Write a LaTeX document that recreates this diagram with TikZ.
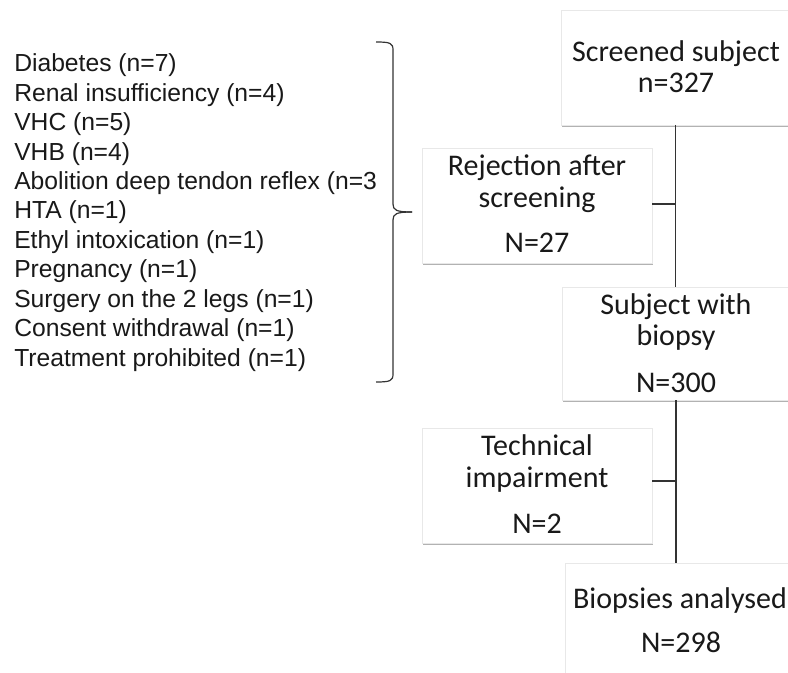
\documentclass[tikz,border=0pt]{standalone}
\usepackage{fontspec}
\setmainfont{Carlito}
\newfontfamily\arialf{Liberation Sans}
\usetikzlibrary{shadows,calc}
\begin{document}
\begin{tikzpicture}[x=0.75pt,y=-0.75pt,
  box/.style={draw=black!9, line width=0.6pt, fill=white, inner sep=0pt, outer sep=0pt,
    drop shadow={shadow xshift=0.5pt, shadow yshift=-1.3pt, fill=black!55, opacity=0.55}},
  boxtxt/.style={anchor=base, inner sep=0pt, font=\fontsize{22.5}{27}\selectfont, text=black!90},
  listtxt/.style={anchor=base west, inner sep=0pt, font=\arialf\fontsize{18.5}{22}\selectfont, text=black!90},
  conn/.style={draw=black!80, line width=0.9pt},
  bracepath/.style={draw=black!80, line width=0.9pt}]
\useasboundingbox (0,0) rectangle (788,673);
\clip (0,0) rectangle (788,673);
\fill[white] (0,0) rectangle (788,673);

% boxes
\node[box, minimum width=171.75pt, minimum height=86.25pt] (scr) at (675.5,67.5) {};
\node[box, minimum width=172.5pt, minimum height=86.25pt] (rej) at (537,205.5) {};
\node[box, minimum width=171pt, minimum height=84.75pt] (sub) at (676,343.5) {};
\node[box, minimum width=172.5pt, minimum height=86.25pt] (tec) at (537,485.5) {};
\node[box, minimum width=168.75pt, minimum height=95.25pt] (bio) at (677.5,626.5) {};

% box texts
\node[boxtxt] (scr1) at (676,62) {Screened subject};
\node[boxtxt] (scr2) at (676,93) {n=327};
\node[boxtxt] (rej1) at (537,176) {Rejection after};
\node[boxtxt] (rej2) at (537,208) {screening};
\node[boxtxt] (rej3) at (537,253) {N=27};
\node[boxtxt] (sub1) at (676,315) {Subject with};
\node[boxtxt] (sub2) at (676,345) {biopsy};
\node[boxtxt] (sub3) at (676,392) {N=300};
\node[boxtxt] (tec1) at (537,455) {Technical};
\node[boxtxt] (tec2) at (537,487) {impairment};
\node[boxtxt] (tec3) at (537,533) {N=2};
\node[boxtxt] (bio1) at (680,608) {Biopsies analysed};
\node[boxtxt] (bio2) at (681,652) {N=298};

% connectors
\draw[conn] (scr.south) -- (sub.north -| scr.south);
\draw[conn] (sub.south) -- (bio.north -| sub.south);
\draw[conn] ($(rej.east)+(0,-1.5)$) -- ($(rej.east -| scr.south)+(0,-1.5)$);
\draw[conn] ($(tec.east)+(0,-4.5)$) -- ($(tec.east -| sub.south)+(0,-4.5)$);

% list
\foreach \t [count=\i] in {Diabetes (n=7),Renal insufficiency (n=4),VHC (n=5),VHB (n=4),
  Abolition deep tendon reflex (n=3,HTA (n=1),Ethyl intoxication (n=1),Pregnancy (n=1),
  Surgery on the 2 legs (n=1),Consent withdrawal (n=1),Treatment prohibited (n=1)}
  \node[listtxt] (l\i) at (14,{72+29.4*(\i-1)}) {\t};

% brace
\draw[bracepath] (376,42) .. controls (390,42) and (393,43) .. (393,50) -- (393,204)
  .. controls (393,210) and (396,212) .. (412,212);
\draw[bracepath] (412,212) .. controls (396,212) and (393,214) .. (393,220) -- (393,374)
  .. controls (393,381) and (390,382) .. (376,382);
\end{tikzpicture}
\end{document}
